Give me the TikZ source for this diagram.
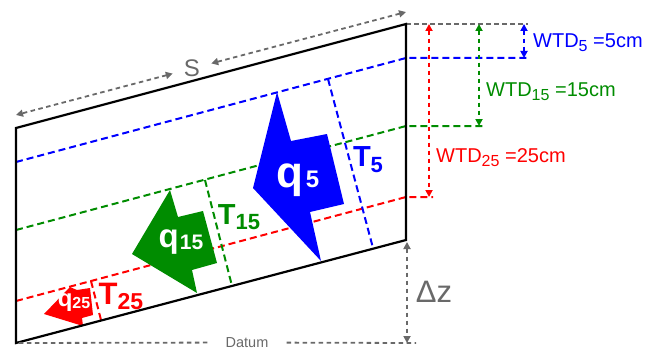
\documentclass[tikz,border=0pt]{standalone}
\usepackage{fontspec}
\setmainfont{Liberation Sans}
\usetikzlibrary{arrows.meta,calc}
\definecolor{wtblue}{RGB}{0,0,255}
\definecolor{wtgreen}{RGB}{0,140,0}
\definecolor{wtred}{RGB}{255,0,0}
\definecolor{dimgray}{RGB}{105,105,105}
\newcommand{\fs}[1]{\fontsize{#1}{#1}\selectfont}

\begin{document}
\begin{tikzpicture}[
  x=1pt,y=-1pt,
  outline/.style={line width=2.2pt, line join=miter},
  wt/.style={line width=2pt, dash pattern=on 7pt off 4pt},
  dimline/.style={draw=dimgray, line width=1.8pt, dash pattern=on 4.5pt off 3.5pt},
  dimarr/.style={line width=1.8pt, dash pattern=on 4.5pt off 3.5pt, {Triangle[length=7pt,width=7pt]}-{Triangle[length=7pt,width=7pt]}},
  qlbl/.style={text=white, font=\bfseries, inner sep=0pt},
  tlbl/.style={font=\bfseries, inner sep=0pt},
  wtd/.style={anchor=west, inner sep=0pt}
]
\useasboundingbox (0,0) rectangle (655,350);
\coordinate (tl) at (16,128);
\coordinate (tr) at (406,24);
\coordinate (br) at (406,240);
\coordinate (bl) at (16,343);

% water tables
\draw[wt, wtblue] (16,162) -- (406,58) -- (528,58);
\draw[wt, wtgreen] (16,230) -- (406,126) -- (483,126);
\draw[wt, wtred] (16,301) -- (406,197) -- (433,197);
\draw[dimline] (tr) -- (528,24);

% transects
\draw[wt, wtblue] (328,79) -- (373,248);
\draw[wt, wtgreen] (205,180) -- (232,286);
\draw[wt, wtred] (91,281) -- (101,320);

% flux arrows
\fill[wtblue] (277,92) -- (253,188) -- (321,261) -- (310,212) -- (344,204) -- (327,134) -- (291,141) -- cycle;
\fill[wtgreen] (170,190) -- (132,254) -- (197,293) -- (192,270) -- (217,263) -- (203,211) -- (178,217) -- cycle;
\fill[wtred] (70,287) -- (44,314) -- (83,326) -- (82,318) -- (93,315) -- (90,288) -- (77,290) -- cycle;

\draw[outline] (tl) -- (tr) -- (br) -- (bl) -- cycle;

% depths
\coordinate (d5a) at (524,24); \coordinate (d5b) at (524,58);
\coordinate (d15a) at (479,24); \coordinate (d15b) at (479,126);
\coordinate (d25a) at (429,24); \coordinate (d25b) at (429,197);
\draw[dimarr, wtblue] (d5a) -- (d5b);
\draw[dimarr, wtgreen] (d15a) -- (d15b);
\draw[dimarr, wtred] (d25a) -- (d25b);
\node[wtd, text=wtblue] (wtd5) at (533,43) {\fs{20}WTD\raisebox{-4pt}{\fs{16}5} =5cm};
\node[wtd, text=wtgreen] (wtd15) at (486,92) {\fs{20}WTD\raisebox{-4pt}{\fs{16}15} =15cm};
\node[wtd, text=wtred] (wtd25) at (436,158) {\fs{20}WTD\raisebox{-4pt}{\fs{16}25} =25cm};

% slope length, datum, elevation
\coordinate (sl) at (16,115);
\coordinate (sr) at (406,12);
\node[text=dimgray, inner xsep=11pt, inner ysep=2pt] (slen) at (192,68.5) {\fs{24}S};
\draw[dimarr, dimgray] (slen) -- (sl);
\draw[dimarr, dimgray] (slen) -- (sr);
\coordinate (datumr) at (416,343);
\node[text=dimgray, inner xsep=18pt, inner ysep=1pt] (datum) at (247,342.5) {\fs{14.5}Datum};
\draw[dimline] (datum) -- (bl);
\draw[dimline] (datum) -- (datumr);
\coordinate (dzt) at (407,242);
\coordinate (dzb) at (407,343);
\draw[dimarr, dimgray] (dzt) -- (dzb);
\node[text=dimgray, inner sep=0pt] (dz) at (434,292) {\fs{31}Δz};

% labels
\node[qlbl] (q5) at (298,180) {\fs{44}q\kern2pt\fs{24}5};
\node[qlbl] (q15) at (181,242) {\fs{33}q\kern1pt\raisebox{-2pt}{\fs{21}15}};
\node[qlbl] (q25) at (74,303) {\fs{24}q\raisebox{-2pt}{\fs{16}25}};
\node[tlbl, text=wtblue] (t5) at (368,160) {\fs{29}T\raisebox{-6pt}{\fs{22}5}};
\node[tlbl, text=wtgreen] (t15) at (239,217) {\fs{29}T\raisebox{-5pt}{\fs{22}15}};
\node[tlbl, text=wtred] (t25) at (121,296) {\fs{31}T\raisebox{-5pt}{\fs{23}25}};
\end{tikzpicture}
\end{document}
